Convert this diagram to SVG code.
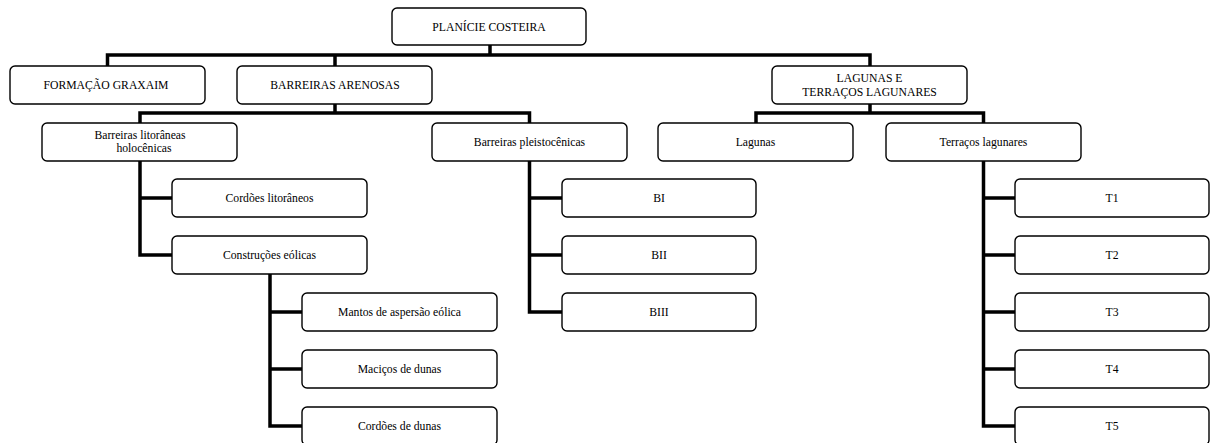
<svg xmlns="http://www.w3.org/2000/svg" width="1210" height="443" viewBox="0 0 1210 443">
<style>
.box{fill:#fff;stroke:#000;stroke-width:1.4}
.t{font-family:"Liberation Serif","Times New Roman",serif;font-size:11.7px;fill:#000;text-anchor:middle;dominant-baseline:central}
.c{fill:none;stroke:#000;stroke-width:3.5;stroke-linecap:butt;stroke-linejoin:miter}
</style>
<rect width="1210" height="443" fill="#fff"/>
<g id="connectors">
<path class="c" d="M490 45V55 M107.5 55H870 M107.5 53.25V66 M335 55V66 M870 53.25V66"/>
<path class="c" d="M335 104V113 M140 113H529.5 M140 111.25V123 M529.5 111.25V123"/>
<path class="c" d="M870 104V113 M756 113H983.5 M756 111.25V123 M983.5 111.25V123"/>
<path class="c" d="M140 161V256.75 M138.25 198H172 M138.25 255H172"/>
<path class="c" d="M270 274V427.75 M268.25 312H302 M268.25 369H302 M268.25 426H302"/>
<path class="c" d="M529.5 161V313.75 M527.75 198H562 M527.75 255H562 M527.75 312H562"/>
<path class="c" d="M983.5 161V427.75 M981.75 198H1015 M981.75 255H1015 M981.75 312H1015 M981.75 369H1015 M981.75 426H1015"/>
</g>
<g id="n-planicie"><rect class="box" x="392" y="8" width="194" height="37" rx="5"/><text class="t" x="489" y="27">PLANÍCIE COSTEIRA</text></g>
<g id="n-formacao"><rect class="box" x="10" y="66" width="195" height="38" rx="5"/><text class="t" x="106" y="85">FORMAÇÃO GRAXAIM</text></g>
<g id="n-barreiras"><rect class="box" x="237" y="66" width="195" height="38" rx="5"/><text class="t" x="335" y="85">BARREIRAS ARENOSAS</text></g>
<g id="n-lagunas-terracos"><rect class="box" x="772" y="66" width="195" height="38" rx="5"/><text class="t" x="869.5" y="78">LAGUNAS E</text><text class="t" x="869.5" y="92">TERRAÇOS LAGUNARES</text></g>
<g id="n-holocenicas"><rect class="box" x="42" y="123" width="195" height="38" rx="5"/><text class="t" x="140" y="135.5">Barreiras litorâneas</text><text class="t" x="144" y="148.5">holocênicas</text></g>
<g id="n-pleistocenicas"><rect class="box" x="432" y="123" width="195" height="38" rx="5"/><text class="t" x="529.5" y="142">Barreiras pleistocênicas</text></g>
<g id="n-lagunas"><rect class="box" x="658" y="123" width="195" height="38" rx="5"/><text class="t" x="755.5" y="142">Lagunas</text></g>
<g id="n-terracos"><rect class="box" x="886" y="123" width="195" height="38" rx="5"/><text class="t" x="983.5" y="142">Terraços lagunares</text></g>
<g id="n-cordoes-litoraneos"><rect class="box" x="172" y="179" width="195" height="38" rx="5"/><text class="t" x="269.5" y="198">Cordões litorâneos</text></g>
<g id="n-construcoes"><rect class="box" x="172" y="236" width="195" height="38" rx="5"/><text class="t" x="269.5" y="255">Construções eólicas</text></g>
<g id="n-mantos"><rect class="box" x="302" y="293" width="195" height="38" rx="5"/><text class="t" x="399.5" y="312">Mantos de aspersão eólica</text></g>
<g id="n-macicos"><rect class="box" x="302" y="350" width="195" height="38" rx="5"/><text class="t" x="399.5" y="369">Maciços de dunas</text></g>
<g id="n-cordoes-dunas"><rect class="box" x="302" y="407" width="195" height="38" rx="5"/><text class="t" x="399.5" y="426">Cordões de dunas</text></g>
<g id="n-bi"><rect class="box" x="562" y="179" width="194" height="38" rx="5"/><text class="t" x="659" y="198">BI</text></g>
<g id="n-bii"><rect class="box" x="562" y="236" width="194" height="38" rx="5"/><text class="t" x="659" y="255">BII</text></g>
<g id="n-biii"><rect class="box" x="562" y="293" width="194" height="38" rx="5"/><text class="t" x="659" y="312">BIII</text></g>
<g id="n-t1"><rect class="box" x="1015" y="179" width="194" height="38" rx="5"/><text class="t" x="1112" y="198">T1</text></g>
<g id="n-t2"><rect class="box" x="1015" y="236" width="194" height="38" rx="5"/><text class="t" x="1112" y="255">T2</text></g>
<g id="n-t3"><rect class="box" x="1015" y="293" width="194" height="38" rx="5"/><text class="t" x="1112" y="312">T3</text></g>
<g id="n-t4"><rect class="box" x="1015" y="350" width="194" height="38" rx="5"/><text class="t" x="1112" y="369">T4</text></g>
<g id="n-t5"><rect class="box" x="1015" y="407" width="194" height="38" rx="5"/><text class="t" x="1112" y="426">T5</text></g>
</svg>
